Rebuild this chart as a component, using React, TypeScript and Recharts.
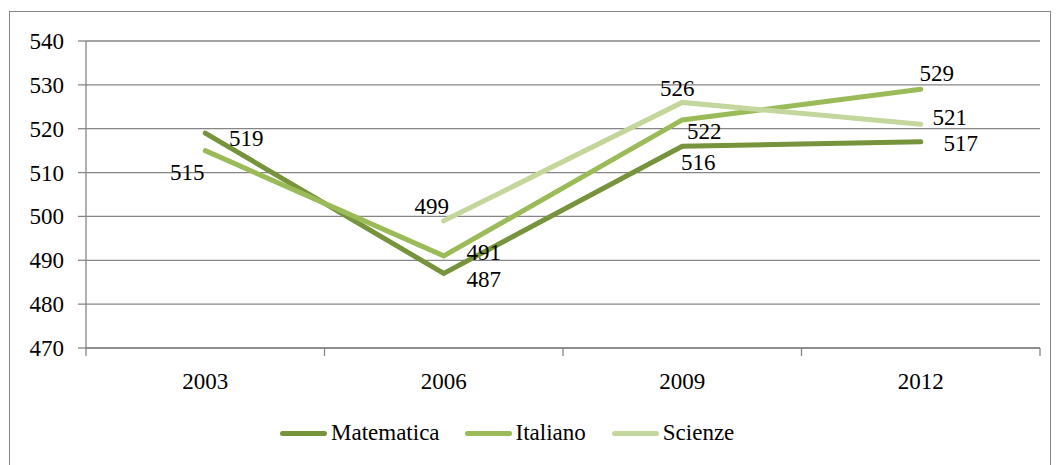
import { LineChart, Line, XAxis, YAxis, CartesianGrid, LabelList } from 'recharts'

const years = ['2003', '2006', '2009', '2012']
const matematica = [519, 487, 516, 517]
const italiano = [515, 491, 522, 529]
const scienze: (number | null)[] = [null, 499, 526, 521]
const yTicks = [470, 480, 490, 500, 510, 520, 530, 540]

const data = years.map((anno, i) => ({
    anno,
    Matematica: matematica[i],
    Italiano: italiano[i],
    Scienze: scienze[i],
}))

// label offsets (dx, dy) from each point, as placed in the original
const series = [
    { key: 'Matematica', color: '#77933C', offsets: [[41, 5], [40, 6], [16, 16], [40, 1]] },
    { key: 'Italiano', color: '#9BBB59', offsets: [[-18, 21], [40, -4], [22, 11], [16, -16]] },
    { key: 'Scienze', color: '#C3D69B', offsets: [[0, 0], [-12, -15], [-5, -14], [29, -7]] },
]

const FONT = "'Liberation Serif', 'DejaVu Serif', serif"
const FS = 23
const GRID = '#868686'
const BAND = 954 / 4

const makeLabel = (offsets: number[][]) => (props: any) => {
    const { x, y, value, index } = props
    if (value == null) return null
    const [dx, dy] = offsets[index]
    return (
        <text x={x + dx} y={y + dy + 8} textAnchor="middle" style={{ fontFamily: FONT, fontSize: FS }} fill="#000">
            {value}
        </text>
    )
}

const XTick = (props: any) => {
    const { x, y, payload, index } = props
    return (
        <g>
            {index === 0 && <line x1={x - BAND / 2} x2={x - BAND / 2} y1={y} y2={y + 8} stroke={GRID} strokeWidth={1.3} />}
            <line x1={x + BAND / 2} x2={x + BAND / 2} y1={y} y2={y + 8} stroke={GRID} strokeWidth={1.3} />
            <text x={x} y={y + 41} textAnchor="middle" style={{ fontFamily: FONT, fontSize: FS }} fill="#000">
                {payload.value}
            </text>
        </g>
    )
}

const YTick = (props: any) => {
    const { x, y, payload } = props
    return (
        <text x={x} y={y + 8} textAnchor="end" style={{ fontFamily: FONT, fontSize: FS }} fill="#000">
            {payload.value}
        </text>
    )
}

function App() {
    return (
        <div style={{ position: 'absolute', left: 9, top: 11, width: 1040, height: 470, border: `1px solid ${GRID}`, background: '#fff', fontFamily: FONT }}>
            <LineChart width={1040} height={453} data={data} margin={{ top: 29, right: 10, left: 0, bottom: 77 }}>
                <CartesianGrid vertical={false} stroke={GRID} strokeWidth={1.3} />
                <XAxis
                    dataKey="anno"
                    scale="band"
                    height={40}
                    stroke={GRID}
                    strokeWidth={1.3}
                    tickLine={false}
                    tickSize={0}
                    tickMargin={0}
                    tick={<XTick />}
                    interval={0}
                />
                <YAxis
                    width={76}
                    domain={[470, 540]}
                    ticks={yTicks}
                    stroke={GRID}
                    strokeWidth={1.3}
                    tickSize={8}
                    tickMargin={14}
                    tick={<YTick />}
                />
                {series.map((s) => (
                    <Line
                        key={s.key}
                        dataKey={s.key}
                        stroke={s.color}
                        strokeWidth={5}
                        strokeLinecap="round"
                        strokeLinejoin="miter"
                        dot={false}
                        isAnimationActive={false}
                    >
                        <LabelList dataKey={s.key} content={makeLabel(s.offsets)} />
                    </Line>
                ))}
            </LineChart>
            <div style={{ position: 'absolute', left: 270, top: 408, display: 'flex', alignItems: 'center', fontFamily: FONT, fontSize: FS }}>
                {series.map((s, i) => (
                    <div key={s.key} style={{ display: 'flex', alignItems: 'center', marginRight: i === 0 ? 25 : 26 }}>
                        <span style={{ display: 'inline-block', width: 47, height: 5, borderRadius: 3, background: s.color, marginRight: 4 }} />
                        <span>{s.key}</span>
                    </div>
                ))}
            </div>
        </div>
    )
}

export default App
